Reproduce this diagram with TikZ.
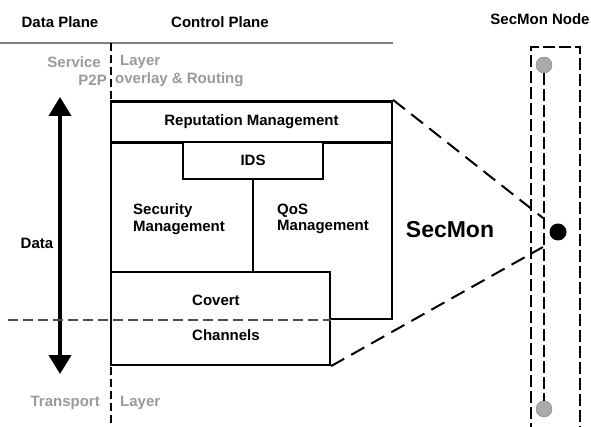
\documentclass[tikz,border=0pt]{standalone}
\usepackage{fontspec}
\setmainfont{Liberation Sans}
\usetikzlibrary{positioning, arrows.meta, calc}

\definecolor{layergray}{HTML}{9A9A9A}
\definecolor{peergray}{HTML}{AAAAAA}

\tikzset{
    lbl/.style={font=\bfseries\fontsize{15}{16.5}\selectfont, inner sep=0pt},
    layerlbl/.style={lbl, text=layergray},
    block/.style={draw, line width=2.2pt, fill=white, inner sep=0pt},
    zoomline/.style={line width=2pt, dash pattern=on 15pt off 8pt},
    planeline/.style={line width=1.8pt, dash pattern=on 8pt off 4pt},
    peer/.style={circle, draw=gray, fill=peergray, minimum size=16pt, inner sep=0pt}
}

\begin{document}
\begin{tikzpicture}[x=1pt, y=-1pt]
    \useasboundingbox (0,0) rectangle (591,427);

    % headings
    \node[lbl] (dataplane) at (60,22) {Data Plane};
    \node[lbl] (ctrlplane) at (220,22) {Control Plane};
    \node[lbl] (nodehead) at (540,19) {SecMon Node};
    \coordinate (rulestart) at (0,43);
    \coordinate (ruleend) at (393,43);
    \draw[gray, line width=2pt] (rulestart) -- (ruleend);

    % layers
    \coordinate (planetop) at (111,43);
    \coordinate (planebot) at (111,440);
    \draw[planeline] (planetop) -- (planebot);
    \node[layerlbl, anchor=east] (service) at (101,62) {Service};
    \node[layerlbl, anchor=west] (layertop) at (120,62) {Layer};
    \node[layerlbl, anchor=east] (ptwop) at (107,80) {P2P};
    \node[layerlbl, anchor=west] (overlay) at (115,80) {overlay \& Routing};
    \node[layerlbl, anchor=east] (transport) at (100,403) {Transport};
    \node[layerlbl, anchor=west] (layerbot) at (120,403) {Layer};

    % data arrow
    \coordinate (datatop) at (60,97);
    \coordinate (databot) at (60,374);
    \draw[line width=4pt, {Triangle[length=19pt,width=22pt]}-{Triangle[length=19pt,width=22pt]}] (datatop) -- (databot);
    \node[lbl] (data) at (37,243) {Data};

    % SecMon blocks
    \node[block, minimum width=281pt, minimum height=218pt] (frame) at (251.5,210) {};
    \node[block, lbl, minimum width=281pt, minimum height=41pt] (reput) at (251.5,122) {Reputation Management};
    \node[block, lbl, minimum width=140pt, minimum height=37pt] (ids) at (253,160.5) {IDS};
    \node[block, minimum width=219pt, minimum height=93pt] (chan) at (220.5,318.5) {};
    \draw[line width=2.2pt] (ids.south) -- (ids.south |- chan.north);
    \node[lbl, anchor=west, align=left] (secmgmt) at (133,219) {Security\\Management};
    \node[lbl, anchor=west, align=left] (qosmgmt) at (277,219) {QoS\\Management};
    \node[lbl, anchor=west] (covert) at (192,300) {Covert};
    \node[lbl, anchor=west] (channels) at (192,335) {Channels};
    \node[lbl, font=\bfseries\fontsize{23}{26}\selectfont] (secmon) at (450,230) {SecMon};

    % data / control boundary
    \coordinate (cutstart) at (8,320);
    \draw[line width=2pt, black!70, dash pattern=on 10pt off 5pt] (cutstart) -- (cutstart -| chan.east);

    % SecMon node column
    \node[draw, planeline, dash pattern=on 12pt off 4pt, minimum width=49pt, minimum height=390pt, inner sep=0pt] (column) at (555.5,242) {};
    \node[peer] (peertop) at (544,65) {};
    \node[peer] (peerbot) at (544,409) {};
    \draw[line width=1.5pt, dash pattern=on 12pt off 4pt] (peertop) -- (peerbot);
    \node[circle, fill=black, minimum size=17pt, inner sep=0pt] (monitor) at (558,232) {};

    % zoom lines
    \coordinate (zoomtop) at (543,218);
    \coordinate (zoombot) at (543,247);
    \draw[zoomline] (frame.north east) -- (zoomtop);
    \draw[zoomline] (chan.south east) -- (zoombot);
\end{tikzpicture}
\end{document}
